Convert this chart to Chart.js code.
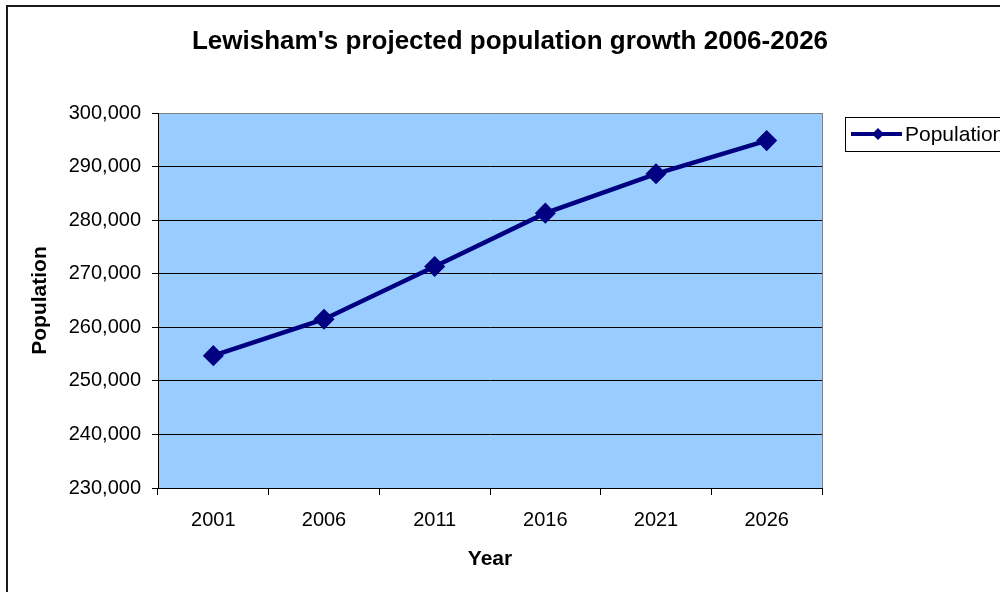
<!DOCTYPE html>
<html><head><meta charset="utf-8">
<script src="https://cdn.jsdelivr.net/npm/chart.js@4/dist/chart.umd.min.js"></script>
<style>
html,body{margin:0;padding:0;overflow:hidden;background:#fff;width:1000px;height:592px}
#wrap{position:absolute;left:0;top:0;width:1020px;height:592px}
canvas{display:block}
</style>
</head><body><div id="wrap"><canvas id="c" width="1020" height="592"></canvas></div>
<script>
const years = ['2001', '2006', '2011', '2016', '2021', '2026'];
const population = [254700, 261500, 271350, 281300, 288650, 294850];
const yTicks = [230000, 240000, 250000, 260000, 270000, 280000, 290000, 300000];
const seriesLabel = 'Population';
const titleText = "Lewisham's projected population growth 2006-2026";
const xTitle = 'Year';
const yTitle = 'Population';

const NAVY = '#000080';
const FONT = "Arial, 'Liberation Sans', sans-serif";

const decor = {
  id: 'decor',
  beforeDraw(chart) {
    const {ctx, chartArea: a} = chart;
    ctx.save();
    ctx.fillStyle = '#99CCFF';
    ctx.fillRect(a.left, a.top, a.right - a.left, a.bottom - a.top);
    ctx.strokeStyle = '#1a1a1a';
    ctx.lineWidth = 2;
    ctx.beginPath();
    ctx.moveTo(7, 1000); ctx.lineTo(7, 6); ctx.lineTo(1100, 6);
    ctx.stroke();
    ctx.restore();
  },
  beforeDatasetsDraw(chart) {
    const {ctx, chartArea: a} = chart;
    ctx.save();
    ctx.strokeStyle = '#808080';
    ctx.lineWidth = 1;
    ctx.beginPath();
    ctx.moveTo(Math.round(a.right) + 0.5, a.top);
    ctx.lineTo(Math.round(a.right) + 0.5, a.bottom);
    ctx.stroke();
    ctx.restore();
  },
  afterDraw(chart) {
    const {ctx} = chart;
    ctx.save();
    ctx.strokeStyle = '#000';
    ctx.lineWidth = 1;
    ctx.strokeRect(845.5, 117.5, 200, 34);
    const cy = 134;
    ctx.strokeStyle = NAVY;
    ctx.lineWidth = 4;
    ctx.beginPath();
    ctx.moveTo(851, cy); ctx.lineTo(902, cy);
    ctx.stroke();
    ctx.fillStyle = NAVY;
    ctx.beginPath();
    const cx = 878, r = 6;
    ctx.moveTo(cx, cy - r); ctx.lineTo(cx + r, cy); ctx.lineTo(cx, cy + r); ctx.lineTo(cx - r, cy);
    ctx.closePath();
    ctx.fill();
    ctx.fillStyle = '#000';
    ctx.font = '21px ' + FONT;
    ctx.textBaseline = 'middle';
    ctx.textAlign = 'left';
    ctx.fillText(chart.data.datasets[0].label, 905, cy + 1);
    ctx.restore();
  }
};

new Chart(document.getElementById('c'), {
  type: 'line',
  data: {
    labels: years,
    datasets: [{
      label: seriesLabel,
      data: population,
      borderColor: NAVY,
      backgroundColor: NAVY,
      borderWidth: 4.5,
      tension: 0,
      pointStyle: 'rectRot',
      pointRadius: 9.5,
      pointHoverRadius: 9.5,
      pointBackgroundColor: NAVY,
      pointBorderColor: NAVY,
      pointBorderWidth: 1.5,
      clip: false
    }]
  },
  options: {
    responsive: false,
    animation: false,
    devicePixelRatio: 1,
    layout: {padding: 0},
    plugins: {
      legend: {display: false},
      tooltip: {enabled: false},
      title: {
        display: true,
        text: titleText,
        color: '#000',
        font: {family: FONT, size: 26, weight: 'bold', lineHeight: 1.2},
        padding: {top: 26.4, bottom: 55.4}
      }
    },
    scales: {
      x: {
        type: 'category',
        offset: true,
        grid: {offset: true, drawOnChartArea: false, drawTicks: true, tickLength: 7, color: '#000', lineWidth: 1},
        border: {display: true, color: '#000', width: 1},
        ticks: {color: '#000', padding: 13, font: {family: FONT, size: 20}, maxRotation: 0},
        title: {display: true, text: xTitle, color: '#000', font: {family: FONT, size: 21, weight: 'bold', lineHeight: 1.2}, padding: {top: 0, bottom: 20.5}},
        afterFit(scale) { scale.height = 104; }
      },
      y: {
        min: 230000,
        max: 300000,
        afterBuildTicks(scale) { scale.ticks = yTicks.map(v => ({value: v})); },
        grid: {
          color: ctx => (ctx.tick && ctx.tick.value === 300000) ? '#808080' : '#000',
          tickColor: '#000',
          tickLength: 6,
          lineWidth: 1
        },
        border: {display: true, color: '#000', width: 1},
        ticks: {
          color: '#000', padding: 11, font: {family: FONT, size: 20},
          callback: v => Number(v).toLocaleString('en-US')
        },
        title: {display: true, text: yTitle, color: '#000', font: {family: FONT, size: 21, weight: 'bold', lineHeight: 1.2}, padding: {top: 28, bottom: 0}},
        afterFit(scale) { scale.width = 158; }
      },
      yRight: {
        position: 'right',
        display: true,
        min: 230000,
        max: 300000,
        grid: {display: false, drawOnChartArea: false},
        border: {display: false},
        ticks: {display: false},
        title: {display: false},
        afterFit(scale) { scale.width = 198; }
      }
    }
  },
  plugins: [decor]
});
</script>
</body></html>
